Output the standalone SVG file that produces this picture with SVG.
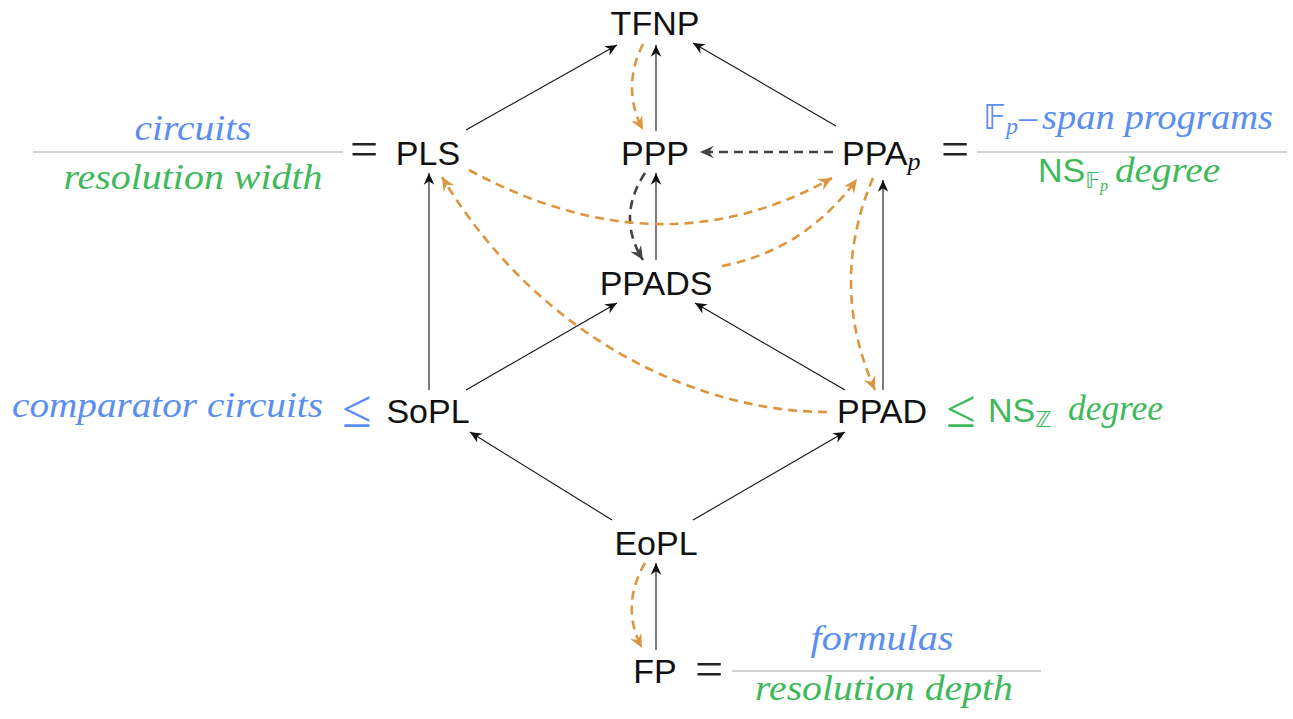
<svg xmlns="http://www.w3.org/2000/svg" width="1293" height="719" viewBox="0 0 1293 719">
<defs>
<style>
.node{font-family:"Liberation Sans","DejaVu Sans",sans-serif;font-size:34px;fill:#111;text-anchor:middle}
.sans{font-family:"Liberation Sans","DejaVu Sans",sans-serif}
.it{font-family:"Liberation Serif","DejaVu Serif",serif;font-style:italic}
.ds{font-family:"DejaVu Sans",sans-serif}
.eq{font-family:"Liberation Serif","DejaVu Serif",serif;font-size:50px;fill:#222;text-anchor:middle}
.blue{fill:#5b8ef0}
.green{fill:#3fb95b}
.solid{fill:none;stroke:#111;stroke-width:1.1;marker-end:url(#ah)}
.orange{fill:none;stroke:#dc963f;stroke-width:2.6;stroke-dasharray:9 6;marker-end:url(#ao)}
.gray{fill:none;stroke:#444;stroke-width:2.6;stroke-dasharray:9 6;marker-end:url(#ag)}
.rule{stroke:#aaa;stroke-width:1.2}
</style>
<marker id="ah" markerUnits="userSpaceOnUse" markerWidth="14" markerHeight="12" viewBox="-11 -5 12 10" refX="0" refY="0" orient="auto">
<path d="M-10,-4.5 L0,0 L-10,4.5 L-7,0 z" fill="#111"/>
</marker>
<marker id="ao" markerUnits="userSpaceOnUse" markerWidth="16" markerHeight="14" viewBox="-13 -6 14 12" refX="0" refY="0" orient="auto">
<path d="M-12,-5.5 L0,0 L-12,5.5 L-8,0 z" fill="#dc963f"/>
</marker>
<marker id="ag" markerUnits="userSpaceOnUse" markerWidth="16" markerHeight="14" viewBox="-13 -6 14 12" refX="0" refY="0" orient="auto">
<path d="M-12,-5.5 L0,0 L-12,5.5 L-8,0 z" fill="#444"/>
</marker>
</defs>
<rect width="1293" height="719" fill="#fff"/>

<g id="connectors">
<path class="solid" d="M466,130 L617,45"/>
<path class="solid" d="M656,131 L656,45"/>
<path class="solid" d="M836,126 L693,43"/>
<path class="gray" d="M833,152 L700,152"/>
<path class="solid" d="M656,260 L656,173"/>
<path class="gray" d="M645,173 Q616,217 643,260"/>
<path class="orange" d="M643,44 Q621,88 643,130"/>
<path class="orange" d="M469,170 Q661,274 832,178"/>
<path class="orange" d="M722,266 Q805,250 857,179"/>
<path class="orange" d="M873,178 Q828,284 875,390"/>
<path class="solid" d="M883,390 L883,180"/>
<path class="orange" d="M827,412 C700,412 540,340 442,177"/>
<path class="solid" d="M429,390 L429,173"/>
<path class="solid" d="M466,390 L617,303"/>
<path class="solid" d="M845,390 L695,303"/>
<path class="solid" d="M612,520 L470,432"/>
<path class="solid" d="M693,520 L845,432"/>
<path class="solid" d="M656,650 L656,563"/>
<path class="orange" d="M645,563 Q620,606 642,648"/>
</g>

<g id="TFNP"><text class="node" x="655" y="35">TFNP</text></g>
<g id="PLS"><text class="node" x="428" y="165">PLS</text></g>
<g id="PPP"><text class="node" x="655" y="165">PPP</text></g>
<g id="PPAp"><text class="sans" x="842" y="165" fill="#111" style="font-size:34px">PPA<tspan class="it" dy="5" style="font-size:26px">p</tspan></text></g>
<g id="PPADS"><text class="node" x="656" y="295">PPADS</text></g>
<g id="SoPL"><text class="node" x="428" y="423">SoPL</text></g>
<g id="PPAD"><text class="node" x="882" y="423">PPAD</text></g>
<g id="EoPL"><text class="node" x="656" y="555">EoPL</text></g>
<g id="FP"><text class="node" x="655" y="683">FP</text></g>

<g id="label-PLS">
<text class="it blue" x="193" y="140" text-anchor="middle" textLength="117" lengthAdjust="spacingAndGlyphs" style="font-size:36px">circuits</text>
<line class="rule" x1="33" y1="152" x2="343" y2="152"/>
<text class="it green" x="193" y="189" text-anchor="middle" textLength="259" lengthAdjust="spacingAndGlyphs" style="font-size:36px">resolution width</text>
<text class="eq" x="364" y="166">=</text>
</g>

<g id="label-PPAp">
<text class="eq" x="955" y="166">=</text>
<text class="blue" x="983" y="129"><tspan class="ds" style="font-size:34px">𝔽</tspan><tspan class="it" dy="5" style="font-size:24px">p</tspan><tspan class="it" dy="-5" x="1019" style="font-size:36px">–</tspan><tspan class="it" x="1042" textLength="231" lengthAdjust="spacingAndGlyphs" style="font-size:36px">span programs</tspan></text>
<line class="rule" x1="977" y1="152" x2="1287" y2="152"/>
<text class="green" x="1038" y="182"><tspan class="sans" style="font-size:34px">NS</tspan><tspan class="ds" dy="6" style="font-size:22px">𝔽</tspan><tspan class="it" dy="3" style="font-size:16px">p</tspan><tspan class="it" x="1115" dy="-9" textLength="105" lengthAdjust="spacingAndGlyphs" style="font-size:36px">degree</tspan></text>
</g>

<g id="label-SoPL">
<text class="it blue" x="12" y="417" textLength="311" lengthAdjust="spacingAndGlyphs" style="font-size:36px">comparator circuits</text>
<text class="eq" x="357" y="427" style="fill:#5b8ef0;font-size:54px">≤</text>
</g>

<g id="label-PPAD">
<text class="eq" x="961" y="427" style="fill:#3fb95b;font-size:54px">≤</text>
<text class="green" x="988" y="422"><tspan class="sans" style="font-size:34px">NS</tspan><tspan class="ds" dy="5" style="font-size:22px">ℤ</tspan><tspan class="it" x="1068" dy="-7" textLength="95" lengthAdjust="spacingAndGlyphs" style="font-size:36px">degree</tspan></text>
</g>

<g id="label-FP">
<text class="eq" x="709" y="686">=</text>
<text class="it blue" x="882" y="650" text-anchor="middle" textLength="143" lengthAdjust="spacingAndGlyphs" style="font-size:36px">formulas</text>
<line class="rule" x1="732" y1="671" x2="1041" y2="671"/>
<text class="it green" x="884" y="700" text-anchor="middle" textLength="258" lengthAdjust="spacingAndGlyphs" style="font-size:36px">resolution depth</text>
</g>
</svg>
